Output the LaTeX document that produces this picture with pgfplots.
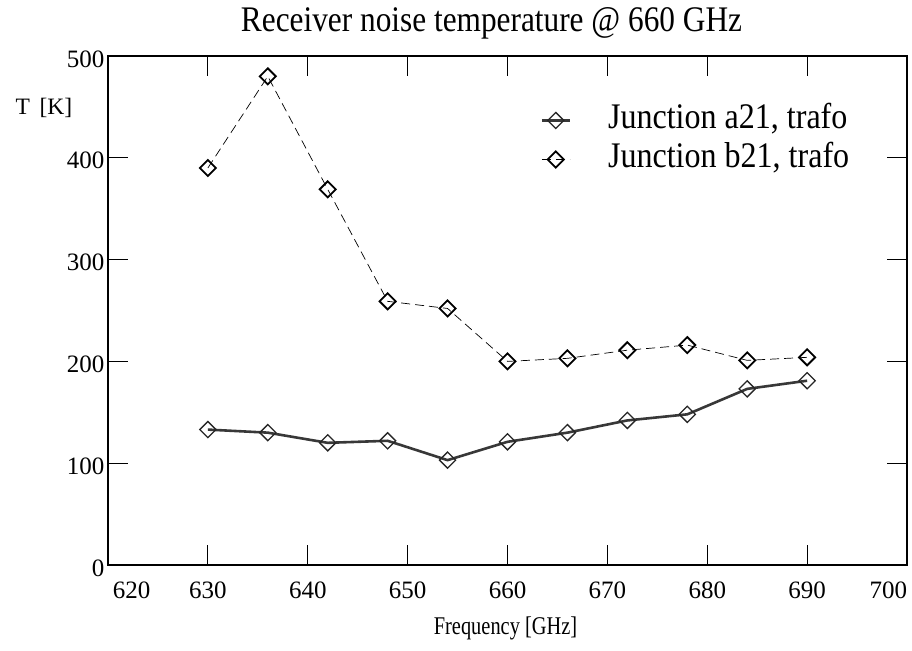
\documentclass[border=0pt]{standalone}
\usepackage{fontspec}
\setmainfont{Liberation Serif}
\newfontfamily\titlefont[FakeStretch=0.87]{Liberation Serif}
\newfontfamily\legfont[FakeStretch=0.89]{Liberation Serif}
\newfontfamily\labfont[FakeStretch=0.8]{Liberation Serif}
\usepackage{pgfplots}
\pgfplotsset{compat=1.18}
\begin{document}
\begin{tikzpicture}
\begin{axis}[
    scale only axis,
    width=799pt, height=509pt,
    xmin=620, xmax=700, ymin=0, ymax=500,
    xtick={620,630,...,700},
    xticklabels={\makebox[0pt][l]{\hspace{5pt}620},630,640,650,660,670,680,690,\makebox[0pt][r]{700}},
    ytick={0,100,...,500},
    tick align=inside,
    major tick length=20pt,
    tick style={line width=1.2pt, black},
    axis line style={line width=1.8pt},
    /pgf/number format/assume math mode=true,
    tick label style={font=\fontsize{25}{30}\selectfont},
    yticklabel style={yshift=-3pt},
    xticklabel style={anchor=base, yshift=-34pt},
    xlabel={Frequency [GHz]},
    xlabel style={font=\labfont\fontsize{25.5}{30}\selectfont, at={(0.5,0)}, anchor=base, yshift=-70pt, xshift=-2pt},
    title={Receiver noise temperature @ 660 GHz},
    title style={font=\titlefont\fontsize{36}{40}\selectfont, at={(0.5,1)}, anchor=base, yshift=18pt, xshift=-16pt},
    legend style={draw=none, fill=none, inner sep=0pt, at={(0.541,0.912)}, anchor=north west,
        font=\legfont\fontsize{36}{40}\selectfont,
        nodes={text height=26pt, text depth=9pt, inner ysep=2pt, inner xsep=2pt}, row sep=0pt},
    legend cell align=left,
    legend image code/.code={
        \draw[#1, mark=none] (0pt,0pt) -- (28pt,0pt);
        \draw[#1, solid] plot coordinates {(14pt,0pt)};
        \path (63pt,0pt);
    },
]
\addplot[black!78, line width=2.6pt, mark=square,
    mark options={rotate=45, mark size=5.7pt, draw=black!85, fill=white, line width=1.3pt}]
coordinates {
    (630,133) (636,130) (642,120) (648,122) (654,103) (660,121)
    (666,130) (672,142) (678,148) (684,173) (690,181)
};
\addlegendentry{Junction a21, trafo}
\addplot[black, line width=0.7pt, dash pattern=on 9pt off 5pt, mark=square,
    mark options={solid, rotate=45, mark size=5.7pt, draw=black, fill=white, line width=1.8pt}]
coordinates {
    (630,390) (636,480) (642,369) (648,259) (654,252) (660,200)
    (666,203) (672,211) (678,216) (684,201) (690,204)
};
\addlegendentry{Junction b21, trafo}
\end{axis}
\node[anchor=base west, font=\fontsize{23.5}{27}\selectfont] at ([xshift=-96pt, yshift=-59pt]current axis.north west) {T\, [K]};
\pgfresetboundingbox
\path ([shift={(-108pt,-86pt)}]current axis.south west) rectangle ([shift={(5pt,56pt)}]current axis.north east);
\end{tikzpicture}
\end{document}
